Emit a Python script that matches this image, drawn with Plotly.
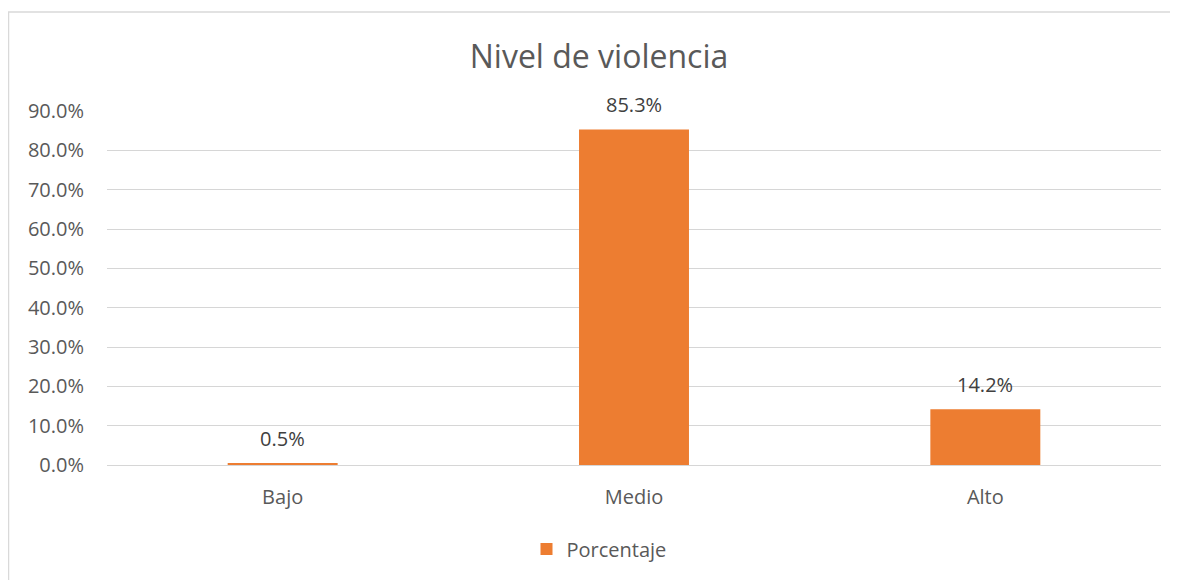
import plotly.graph_objects as go

categories = ["Bajo", "Medio", "Alto"]
values = [0.5, 85.3, 14.2]
labels = ["0.5%", "85.3%", "14.2%"]
tick_vals = [0, 10, 20, 30, 40, 50, 60, 70, 80, 90]
tick_text = ["0.0%", "10.0%", "20.0%", "30.0%", "40.0%", "50.0%", "60.0%", "70.0%", "80.0%", "90.0%"]

W, H = 1178, 580
L, R, T, B = 99, 25, 103, 123
pw, ph = W - L - R, H - T - B
font_family = "Open Sans, Noto Sans, sans-serif"
txt = "#595959"

fig = go.Figure(go.Bar(
    x=categories, y=values, name="Porcentaje",
    marker=dict(color="#ED7D31", line=dict(width=0)),
))

for c, v, t in zip(categories, values, labels):
    fig.add_annotation(x=c, y=v, text=t, showarrow=False, yanchor="middle", yshift=25,
                       font=dict(size=20, color="#404040", family=font_family))

fig.update_layout(
    width=W, height=H,
    margin=dict(l=L, r=R, t=T, b=B),
    paper_bgcolor="white", plot_bgcolor="white",
    bargap=0.687,
    title=dict(text="Nivel de violencia", x=591 / W, xanchor="center",
               y=1 - 49 / H, yanchor="middle",
               font=dict(size=32, color=txt, family=font_family)),
    font=dict(family=font_family, color=txt),
    showlegend=True,
    legend=dict(orientation="h", x=(591 - L) / pw, xanchor="center", y=(457 - 541) / ph, yanchor="middle",
                font=dict(size=20, color=txt), itemwidth=30),
    xaxis=dict(showgrid=False, showline=False, tickfont=dict(size=20, color=txt),
               ticks="", ticklabelstandoff=18),
    yaxis=dict(range=[0, 90], tickvals=tick_vals, ticktext=tick_text,
               showgrid=True, gridcolor="#D6D6D6", gridwidth=1.3,
               zeroline=True, zerolinecolor="#D6D6D6", zerolinewidth=1.3,
               showline=False, ticks="", ticklabelstandoff=22,
               tickfont=dict(size=20, color=txt)),
    shapes=[dict(type="rect", xref="paper", yref="paper",
                 x0=(0.5 - L) / pw, x1=(W + 10 - L) / pw,
                 y0=(457 - H - 10) / ph, y1=(457 - 4) / ph,
                 line=dict(color="#D9D9D9", width=1.5), fillcolor="rgba(0,0,0,0)", layer="below")],
)

fig.write_html("out.html")
